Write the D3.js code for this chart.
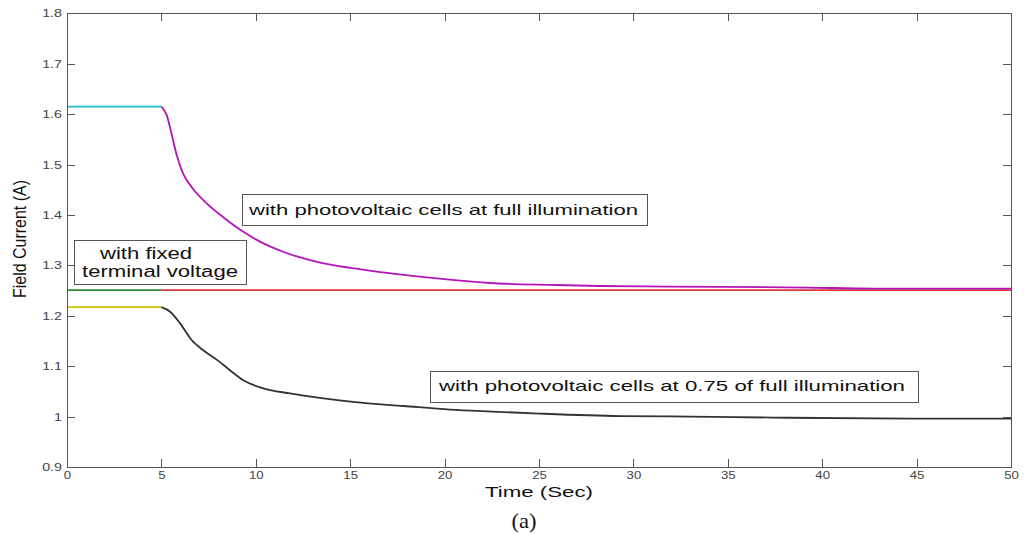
<!DOCTYPE html>
<meta charset="utf-8">
<html>
<head>
<script src="https://d3js.org/d3.v7.min.js"></script>
<style>
body { margin: 0; background: #fff; }
.axis path, .axis line { stroke: #555; stroke-width: 1; shape-rendering: crispEdges; }
.axis text { fill: #444; font: 11px "Liberation Sans", Arial, sans-serif; }
.curve { fill: none; stroke-width: 1.8; }
.note rect { fill: #fff; stroke: #555; stroke-width: 1; }
.note text { font: 15px "Liberation Sans", Arial, sans-serif; fill: #111; }
</style>
</head>
<body>
<script>
// tick values / labels
var xTicks = [0, 5, 10, 15, 20, 25, 30, 35, 40, 45, 50];
var yTicks = [0.9, 1.0, 1.1, 1.2, 1.3, 1.4, 1.5, 1.6, 1.7, 1.8];
var yLabels = ["0.9", "1", "1.1", "1.2", "1.3", "1.4", "1.5", "1.6", "1.7", "1.8"];

// before the step (t = 0..5)
var tPre = [0, 5];
var fullPre = [1.615, 1.615];
var partPre = [1.217, 1.217];
var fixedPre = [1.251, 1.251];

// after the step, full illumination
var tFull = [5, 5.28, 5.55, 5.81, 6.14, 6.67, 7.4, 8.26, 9.32, 10.22, 11.44, 13.24, 15, 16.74, 18.54, 20.13, 22.4, 25.9, 28.2, 31.8, 39.2, 42.7, 50];
var fullPost = [1.615, 1.598, 1.559, 1.519, 1.483, 1.452, 1.423, 1.396, 1.367, 1.347, 1.327, 1.307, 1.295, 1.286, 1.278, 1.272, 1.265, 1.261, 1.259, 1.258, 1.256, 1.254, 1.254];

// after the step, 0.75 illumination
var tPart = [5, 5.46, 5.99, 6.6, 7.2, 7.93, 8.63, 9.34, 10.4, 11.81, 13.58, 15.69, 17.81, 20.29, 22.5, 25, 29.3, 33, 37.4, 44.6, 50];
var partPost = [1.217, 1.208, 1.185, 1.152, 1.132, 1.113, 1.092, 1.072, 1.056, 1.046, 1.036, 1.027, 1.021, 1.014, 1.01, 1.006, 1.001, 1.0, 0.998, 0.996, 0.996];

// fixed terminal voltage after step
var tFixed = [5, 50];
var fixedPost = [1.251, 1.251];

var W = 1024, H = 535;
var plotL = 67, plotR = 1011, plotT = 13.3, plotB = 467;

var x = d3.scaleLinear().domain([0, 50]).range([plotL, plotR]);
var y = d3.scaleLinear().domain([0.9, 1.8]).range([plotB, plotT]);

var svg = d3.select("body").append("svg")
    .attr("width", W)
    .attr("height", H);

// stretch text horizontally, the original is rendered wide
function stretch(sel, k) {
  sel.each(function() {
    var w = this.getComputedTextLength();
    d3.select(this).attr("textLength", w * k).attr("lengthAdjust", "spacingAndGlyphs");
  });
}

var line = d3.line()
    .x(function(d) { return x(d[0]); })
    .y(function(d) { return y(d[1]); })
    .curve(d3.curveMonotoneX);

function pairs(ts, vs) { return ts.map(function(t, i) { return [t, vs[i]]; }); }

var series = [
  {pts: pairs(tPre, fixedPre), color: "#2e8b3a"},
  {pts: pairs(tFixed, fixedPost), color: "#e0343c"},
  {pts: pairs(tPre, fullPre), color: "#22bcc4"},
  {pts: pairs(tFull, fullPost), color: "#b414b8"},
  {pts: pairs(tPre, partPre), color: "#c8c400"},
  {pts: pairs(tPart, partPost), color: "#333333"}
];

svg.selectAll("path.curve")
  .data(series)
  .enter().append("path")
  .attr("class", "curve")
  .attr("stroke", function(d) { return d.color; })
  .attr("d", function(d) { return line(d.pts); });

// axes, matlab style box with inward ticks
var gx = svg.append("g").attr("class", "axis")
    .attr("transform", "translate(0," + plotB + ")")
    .call(d3.axisBottom(x).tickValues(xTicks).tickSize(-8).tickSizeOuter(0).tickPadding(4));
var gy = svg.append("g").attr("class", "axis")
    .attr("transform", "translate(" + plotL + ",0)")
    .call(d3.axisLeft(y).tickValues(yTicks).tickFormat(function(d, i) { return yLabels[i]; })
      .tickSize(-8).tickSizeOuter(0).tickPadding(5));
svg.append("g").attr("class", "axis")
    .attr("transform", "translate(0," + plotT + ")")
    .call(d3.axisTop(x).tickValues(xTicks).tickSize(-8).tickSizeOuter(0).tickFormat(""));
svg.append("g").attr("class", "axis")
    .attr("transform", "translate(" + plotR + ",0)")
    .call(d3.axisRight(y).tickValues(yTicks).tickSize(-8).tickSizeOuter(0).tickFormat(""));

stretch(gx.selectAll("text"), 1.2);
stretch(gy.selectAll("text"), 1.3);

// axis titles
svg.append("text")
    .attr("x", 539).attr("y", 497)
    .attr("text-anchor", "middle")
    .style("font", "15.5px 'Liberation Sans', Arial, sans-serif")
    .attr("fill", "#111")
    .attr("textLength", 108).attr("lengthAdjust", "spacingAndGlyphs")
    .text("Time (Sec)");

svg.append("text")
    .attr("transform", "translate(25.5,239)rotate(-90)")
    .attr("text-anchor", "middle")
    .style("font", "17.5px 'Liberation Sans Narrow', 'Liberation Sans', Arial, sans-serif")
    .attr("fill", "#111")
    .attr("textLength", 118).attr("lengthAdjust", "spacingAndGlyphs")
    .text("Field Current (A)");

svg.append("text")
    .attr("x", 524).attr("y", 528)
    .attr("text-anchor", "middle")
    .style("font", "21px 'Liberation Serif', 'Times New Roman', serif")
    .attr("fill", "#111")
    .attr("textLength", 25).attr("lengthAdjust", "spacingAndGlyphs")
    .text("(a)");

// annotation boxes
function note(bx, by, bw, bh, lines) {
  var g = svg.append("g").attr("class", "note");
  g.append("rect").attr("x", bx).attr("y", by).attr("width", bw).attr("height", bh);
  lines.forEach(function(l) {
    g.append("text")
      .attr("x", l.x).attr("y", l.y)
      .style("font-size", l.size + "px")
      .attr("textLength", l.len).attr("lengthAdjust", "spacingAndGlyphs")
      .text(l.text);
  });
}

note(74.5, 240.5, 172, 44, [
  {text: "with fixed", x: 100, y: 259, size: 16, len: 92},
  {text: "terminal voltage", x: 82, y: 277, size: 16, len: 156}
]);
note(242.5, 194.5, 405, 31, [
  {text: "with photovoltaic cells at full illumination", x: 249, y: 215, size: 15, len: 389}
]);
note(430.5, 371.5, 488, 31, [
  {text: "with photovoltaic cells at 0.75 of full illumination", x: 439, y: 391, size: 15, len: 466}
]);
</script>
</body>
</html>
